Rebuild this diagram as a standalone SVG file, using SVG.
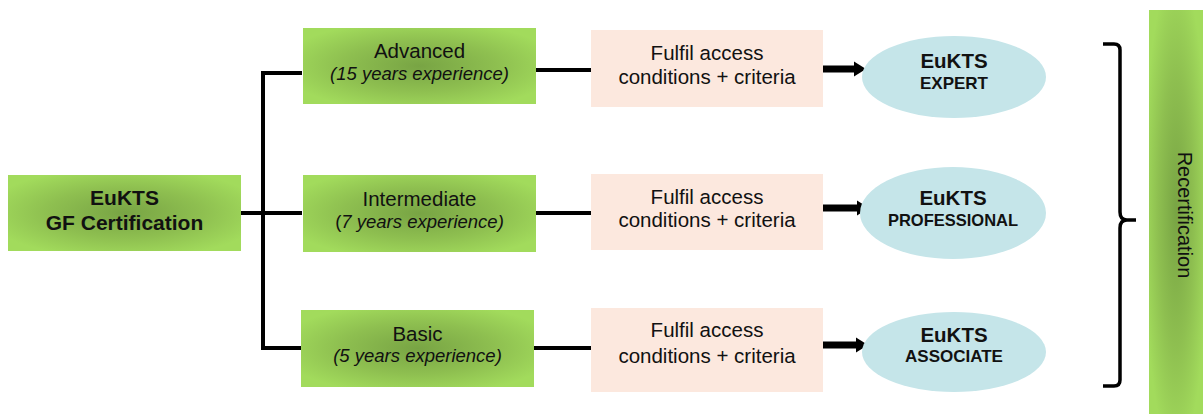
<svg xmlns="http://www.w3.org/2000/svg" width="1203" height="414" viewBox="0 0 1203 414">
<defs>
<radialGradient id="g" cx="0.5" cy="0.5" r="0.6">
<stop offset="0" stop-color="#78a444"/>
<stop offset="0.55" stop-color="#8ebf50"/>
<stop offset="1" stop-color="#a2db5c"/>
</radialGradient>
<marker id="ah" markerUnits="userSpaceOnUse" markerWidth="14" markerHeight="18" refX="0" refY="9" orient="auto">
<path d="M0,1.5 L12,9 L0,16.5 z" fill="#000"/>
</marker>
</defs>
<style>
.green{fill:url(#g)}
.peach{fill:#fce8de}
.ell{fill:#c5e5e9}
text{font-family:"Liberation Sans",Arial,sans-serif;fill:#111;text-anchor:middle}
.b{font-weight:bold}
.it{font-style:italic}
.line{stroke:#000;stroke-width:4;fill:none}
.arrow{stroke:#000;stroke-width:7;fill:none;marker-end:url(#ah)}
</style>
<g id="connectors">
<path class="line" d="M302,73 H263 V348 H302"/>
<path class="line" d="M238,213 H302"/>
<path class="line" d="M531,70 H592"/>
<path class="line" d="M533,213 H593"/>
<path class="line" d="M531,348 H592"/>
<path class="arrow" d="M818,69 H854"/>
<path class="arrow" d="M821,208 H857"/>
<path class="arrow" d="M820,345 H856"/>
<path d="M1103,44 H1114 Q1120,44 1120,50 V212 Q1120,220 1127,220 H1136 M1127,220 Q1120,220 1120,228 V380 Q1120,386 1114,386 H1103" fill="none" stroke="#000" stroke-width="3.5"/>
</g>
<g id="gf">
<rect class="green" x="8" y="175" width="233" height="76"/>
<text class="b" x="124.5" y="205" font-size="21">EuKTS</text>
<text class="b" x="124.5" y="230" font-size="21">GF Certification</text>
</g>
<g id="advanced">
<rect class="green" x="303" y="28" width="233" height="76"/>
<text x="419.5" y="58" font-size="20.5">Advanced</text>
<text class="it" x="419.5" y="80" font-size="18.5">(15 years experience)</text>
</g>
<g id="intermediate">
<rect class="green" x="303" y="175" width="233" height="77"/>
<text x="419.5" y="206" font-size="20.5">Intermediate</text>
<text x="419.5" y="228" font-size="18.5">(<tspan class="it">7 years experience)</tspan></text>
</g>
<g id="basic">
<rect class="green" x="301" y="310" width="233" height="77"/>
<text x="417.5" y="341" font-size="20.5">Basic</text>
<text class="it" x="417.5" y="362" font-size="18.5">(5 years experience)</text>
</g>
<g id="fulfil1">
<rect class="peach" x="591" y="30" width="232" height="77"/>
<text x="707" y="60" font-size="20.5">Fulfil access</text>
<text x="707" y="84" font-size="20.5">conditions + criteria</text>
</g>
<g id="fulfil2">
<rect class="peach" x="591" y="174" width="232" height="76"/>
<text x="707" y="204" font-size="20.5">Fulfil access</text>
<text x="707" y="227" font-size="20.5">conditions + criteria</text>
</g>
<g id="fulfil3">
<rect class="peach" x="591" y="308" width="232" height="84"/>
<text x="707" y="337" font-size="20.5">Fulfil access</text>
<text x="707" y="363" font-size="20.5">conditions + criteria</text>
</g>
<g id="expert">
<ellipse class="ell" cx="954" cy="77" rx="92" ry="41"/>
<text class="b" x="954" y="68" font-size="20.5">EuKTS</text>
<text class="b" x="954" y="89" font-size="17">EXPERT</text>
</g>
<g id="professional">
<ellipse class="ell" cx="953" cy="213" rx="93" ry="46"/>
<text class="b" x="953" y="205" font-size="20.5">EuKTS</text>
<text class="b" x="953" y="226" font-size="16.5">PROFESSIONAL</text>
</g>
<g id="associate">
<ellipse class="ell" cx="954" cy="352" rx="92" ry="40"/>
<text class="b" x="954" y="342" font-size="20.5">EuKTS</text>
<text class="b" x="954" y="362" font-size="17">ASSOCIATE</text>
</g>
<g id="recertification">
<rect class="green" x="1149" y="10" width="54" height="404"/>
<text transform="translate(1178,215) rotate(90)" x="0" y="0" font-size="20">Recertification</text>
</g>
</svg>
